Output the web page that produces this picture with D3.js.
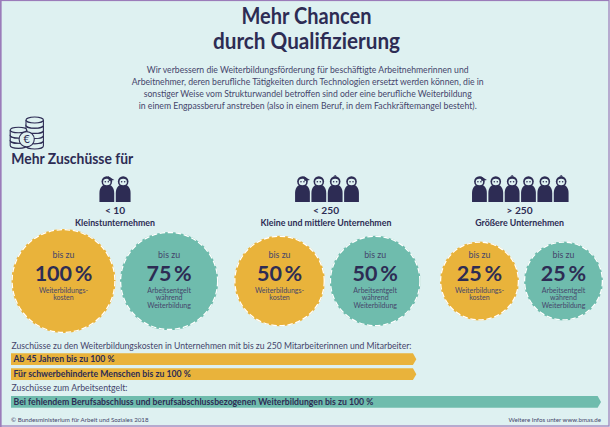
<!DOCTYPE html>
<html lang="de"><head><meta charset="utf-8">
<script src="https://cdnjs.cloudflare.com/ajax/libs/d3/7.8.5/d3.min.js"></script>
<style>html,body{margin:0;padding:0;background:#def1f1}svg{display:block}text{font-family:Lato,"Noto Sans",sans-serif}</style>
</head><body><svg id="c" width="610" height="427"></svg>
<script>
// ---------- data ----------
const titleLines = ["Mehr Chancen", "durch Qualifizierung"];
const introLines = [
  "Wir verbessern die Weiterbildungsförderung für beschäftigte Arbeitnehmerinnen und",
  "Arbeitnehmer, deren berufliche Tätigkeiten durch Technologien ersetzt werden können, die in",
  "sonstiger Weise vom Strukturwandel betroffen sind oder eine berufliche Weiterbildung",
  "in einem Engpassberuf anstreben (also in einem Beruf, in dem Fachkräftemangel besteht)."
];
const heading = "Mehr Zuschüsse für";
const sizeLabels = ["< 10", "< 250", "> 250"];
const sizeNames = ["Kleinstunternehmen", "Kleine und mittlere Unternehmen", "Größere Unternehmen"];
const peopleCounts = [2, 4, 6];
const kostenValues = [100, 50, 25];
const entgeltValues = [75, 50, 25];
const kostenLabel = ["Weiterbildungs-", "kosten"];
const entgeltLabel = ["Arbeitsentgelt", "während", "Weiterbildung"];
const barLabels = ["Ab 45 Jahren bis zu 100 %", "Für schwerbehinderte Menschen bis zu 100 %", "Bei fehlendem Berufsabschluss und berufsabschlussbezogenen Weiterbildungen bis zu 100 %"];
const barReach = [0.687, 0.687, 1];
const barKinds = ["kosten", "kosten", "entgelt"];
const captionTop = "Zuschüsse zu den Weiterbildungskosten in Unternehmen mit bis zu 250 Mitarbeiterinnen und Mitarbeiter:";
const captionBottom = "Zuschüsse zum Arbeitsentgelt:";
const footerLeft = "© Bundesministerium für Arbeit und Soziales 2018";
const footerRight = "Weitere Infos unter www.bmas.de";

// ---------- style ----------
const DARK = "#2d2c54", BODY = "#45456b", YEL = "#e9b33b", TEAL = "#6fbcad", BG = "#def1f1";
const svg = d3.select("#c");
svg.append("rect").attr("width",610).attr("height",427).attr("fill",BG);
svg.append("rect").attr("x",.5).attr("y",.5).attr("width",608.5).attr("height",425.5)
  .attr("fill","none").attr("stroke","#9b7cba").attr("stroke-width",1.2);
svg.append("rect").attr("x",0).attr("y",0).attr("width",1.6).attr("height",427).attr("fill","#9b7cba");

function txt(s,x,y,size,weight,fill,anchor,fit){
  const t = svg.append("text").attr("x",x).attr("y",y).attr("font-size",size).attr("font-weight",weight)
    .attr("fill",fill).attr("text-anchor",anchor||"start").text(s);
  if(fit) t.attr("textLength",fit).attr("lengthAdjust","spacingAndGlyphs");
  return t;
}
const titleFit = [130, 187];
titleLines.forEach((t,i)=>txt(t,306.5,24+i*25.4,22.5,700,DARK,"middle",titleFit[i]));
const introFit = [321.7, 352, 328, 338];
introLines.forEach((t,i)=>txt(t,307.7,72.7+i*12,9.3,400,BODY,"middle",introFit[i]));
txt(heading,11.3,163.5,14.8,700,DARK,"start",122);

// coins icon
const coinG = svg.append("g").attr("fill",BG).attr("stroke",DARK).attr("stroke-width",1.1);
function stack(cx,top,n,rx){
  const ry=rx*0.34, step=5.2;
  for(let i=n-1;i>=0;i--){
    const y=top+i*step;
    coinG.append("path").attr("d",`M${cx-rx},${y}V${y+step}A${rx},${ry} 0 0 0 ${cx+rx},${y+step}V${y}`);
    coinG.append("ellipse").attr("cx",cx).attr("cy",y).attr("rx",rx).attr("ry",ry);
  }
}
stack(34.7,120,5,8.7);
stack(18.5,130,3,8.3);
coinG.append("circle").attr("cx",26.7).attr("cy",139.3).attr("r",7.6);
svg.append("text").attr("x",26.7).attr("y",143.2).attr("text-anchor","middle").attr("font-size",11).attr("fill",DARK).text("€");

// people
const personX = d3.scaleLinear().domain([0,1]).range([0,16.35]);
const groupCentre = [115, 327, 520.3];
const labelCentre = [115, 326, 519.6];
function person(g,x,i){
  const p=g.append("g").attr("transform",`translate(${x},0)`);
  p.append("path").attr("fill",DARK).attr("d","M-7.4,202V193C-7.4,187 -4,184.5 0,184.5C4,184.5 7.4,187 7.4,193V202Z");
  p.append("circle").attr("cy",181.5).attr("r",5.3).attr("fill",DARK);
  p.append("ellipse").attr("cy",182).attr("rx",3.7).attr("ry",3.2).attr("fill",BG);
  p.append("circle").attr("cx",-1.5).attr("cy",181.8).attr("r",.8).attr("fill",DARK);
  p.append("circle").attr("cx",1.5).attr("cy",181.8).attr("r",.8).attr("fill",DARK);
  if(i===0) p.append("path").attr("fill",DARK).attr("d","M1,176L7.5,180L2,181Z");
  if(i%3===2) p.append("path").attr("fill",DARK).attr("d","M-2,176.5L0,175L2,176.5Z");
}
peopleCounts.forEach((n,k)=>{
  const g=svg.append("g");
  const w=personX(n-1);
  d3.range(n).forEach(i=>person(g,groupCentre[k]-w/2+personX(i),i));
  txt(sizeLabels[k],labelCentre[k],214,10.2,700,DARK,"middle");
  txt(sizeNames[k],labelCentre[k],225.5,8.8,700,DARK,"middle");
});

// circles: radius from value
const rScale = d3.scalePow().exponent(0.2).domain([25,100]).range([39.5,52]);
const gaps = [4.5,16,5,19.5,5];
const circles = [];
kostenValues.forEach((v,i)=>{
  circles.push({v,fill:YEL,label:kostenLabel});
  circles.push({v:entgeltValues[i],fill:TEAL,label:entgeltLabel});
});
let cursor = 11.5;
circles.forEach((c,i)=>{
  const r=rScale(c.v); c.cx=cursor+r; c.r=r; cursor+=2*r+(gaps[i]||0);
  svg.append("circle").attr("cx",c.cx).attr("cy",281).attr("r",r).attr("fill",c.fill);
  svg.append("circle").attr("cx",c.cx).attr("cy",281).attr("r",r-.6).attr("fill","none")
    .attr("stroke","#fff").attr("stroke-width",1.3).attr("stroke-dasharray","5.5 2.6");
  txt("bis zu",c.cx,257.6,8.8,400,BODY,"middle");
  txt(c.v+"\u2009%",c.cx,281,21.5,700,DARK,"middle");
  c.label.forEach((l,j)=>txt(l,c.cx,292.6+j*7.7,7,400,BODY,"middle"));
});

// bars
const barX = d3.scaleLinear().domain([0,1]).range([11,601]);
const barY = d3.scaleOrdinal().domain(d3.range(3)).range([353.3,368.3,396]);
const barH = 11.8, tip=3.4;
barLabels.forEach((l,i)=>{
  const x1=barX(barReach[i]), y=barY(i);
  svg.append("path").attr("fill",barKinds[i]==="kosten"?YEL:TEAL)
    .attr("d",d3.line()([[barX(0),y],[x1-tip,y],[x1,y+barH/2],[x1-tip,y+barH],[barX(0),y+barH]])+"Z");
  txt(l,13.5,y+9,8.7,700,DARK);
});
txt(captionTop,11.5,349.3,9.4,400,BODY,"start",400);
txt(captionBottom,11.5,391.3,9.4,400,BODY,"start",116);
txt(footerLeft,11,421.6,6.2,400,BODY);
txt(footerRight,601,421.6,6.2,400,BODY,"end");
</script></body></html>
